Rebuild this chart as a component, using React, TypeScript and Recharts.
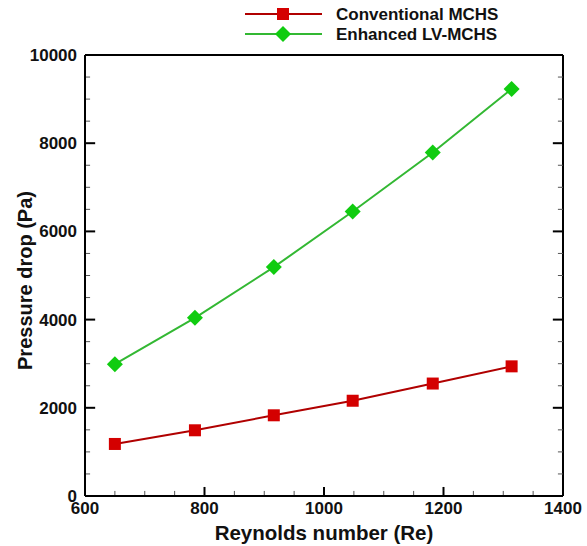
import React from 'react';
import { LineChart, Line, XAxis, YAxis, Legend, Label, ReferenceLine } from 'recharts';

// Reynolds numbers tested and measured pressure drop (Pa)
const reynolds = [650, 784, 916, 1048, 1182, 1314];
const conventional = [1180, 1490, 1830, 2160, 2550, 2940];
const enhanced = [2990, 4040, 5190, 6450, 7790, 9230];

const xTicks = [600, 650, 700, 750, 800, 850, 900, 950, 1000, 1050, 1100, 1150, 1200, 1250, 1300, 1350, 1400];
const xLabels = [600, 800, 1000, 1200, 1400];
const yTicks = [
  0, 500, 1000, 1500, 2000, 2500, 3000, 3500, 4000, 4500, 5000,
  5500, 6000, 6500, 7000, 7500, 8000, 8500, 9000, 9500, 10000,
];
const yLabels = [0, 2000, 4000, 6000, 8000, 10000];

const seriesNames = ['Conventional MCHS', 'Enhanced LV-MCHS'];

const data = reynolds.map((re, i) => ({
  re,
  conventional: conventional[i],
  enhanced: enhanced[i],
}));

const X_MIN = 600;
const X_MAX = 1400;
const Y_MIN = 0;
const Y_MAX = 10000;

// inward tick lengths, in axis units (roughly 9/5 px high, 10/5 px wide)
const X_TICK_MAJOR = 205;
const X_TICK_MINOR = 115;
const Y_TICK_MAJOR = 17;
const Y_TICK_MINOR = 8.5;

const FONT = '"Liberation Sans", Arial, Helvetica, sans-serif';
const INK = '#111';
const RED_LINE = '#b00000';
const RED_MARK = '#d40000';
const GREEN_LINE = '#33b833';
const GREEN_MARK = '#10cc10';

const tickText = { fontFamily: FONT, fontWeight: 'bold', fontSize: 17, fill: INK };
const frame = { stroke: '#000', strokeWidth: 2 };

const Square = ({ cx, cy, size = 12 }: { cx: number; cy: number; size?: number }) => (
  <rect x={cx - size / 2} y={cy - size / 2} width={size} height={size} fill={RED_MARK} />
);

const Diamond = ({ cx, cy, r = 8 }: { cx: number; cy: number; r?: number }) => (
  <polygon
    points={`${cx},${cy - r} ${cx + r},${cy} ${cx},${cy + r} ${cx - r},${cy}`}
    fill={GREEN_MARK}
  />
);

const LegendBox = () => (
  <svg width={320} height={44} style={{ display: 'block' }}>
    {seriesNames.map((name, i) => {
      const cy = 14 + i * 20;
      return (
        <g key={name}>
          <line x1={5} x2={82} y1={cy} y2={cy} stroke={i === 0 ? RED_LINE : GREEN_LINE} strokeWidth={2} />
          {i === 0 ? <Square cx={43} cy={cy} /> : <Diamond cx={43} cy={cy} />}
          <text x={96} y={cy} dy="0.36em" fontFamily={FONT} fontWeight="bold" fontSize={17} fill={INK}>
            {name}
          </text>
        </g>
      );
    })}
  </svg>
);

// small tick marks pointing into the plot frame
const tickMarks = () => {
  const marks: React.ReactNode[] = [];
  xTicks.forEach((v) => {
    if (v === X_MIN || v === X_MAX) return;
    const major = xLabels.includes(v);
    marks.push(
      <ReferenceLine
        key={`x${v}`}
        segment={[{ x: v, y: Y_MIN }, { x: v, y: Y_MIN + (major ? X_TICK_MAJOR : X_TICK_MINOR) }]}
        stroke={major ? '#000' : '#555'}
        strokeWidth={major ? 2 : 1}
        ifOverflow="visible"
      />,
    );
  });
  yTicks.forEach((v) => {
    if (v === Y_MIN || v === Y_MAX) return;
    const major = yLabels.includes(v);
    const len = major ? Y_TICK_MAJOR : Y_TICK_MINOR;
    const stroke = major ? '#000' : '#555';
    const width = major ? 2 : 1;
    marks.push(
      <ReferenceLine
        key={`l${v}`}
        segment={[{ x: X_MIN, y: v }, { x: X_MIN + len, y: v }]}
        stroke={stroke}
        strokeWidth={width}
        ifOverflow="visible"
      />,
      <ReferenceLine
        key={`r${v}`}
        segment={[{ x: X_MAX - len, y: v }, { x: X_MAX, y: v }]}
        stroke={stroke}
        strokeWidth={width}
        ifOverflow="visible"
      />,
    );
  });
  return marks;
};

export default function App() {
  return (
    <div style={{ position: 'absolute', left: 0, top: 0, background: '#fff' }}>
      <LineChart width={587} height={546} data={data} margin={{ top: 55, right: 24, bottom: 0, left: 0 }}>
        <XAxis
          dataKey="re"
          type="number"
          domain={[X_MIN, X_MAX]}
          ticks={xLabels}
          interval={0}
          height={50}
          tickSize={0}
          tickMargin={6}
          tickLine={false}
          tick={tickText}
          axisLine={frame}
        >
          <Label
            content={({ viewBox }: any) => (
              <text
                x={viewBox.x + viewBox.width / 2}
                y={viewBox.y + 37}
                dy="0.36em"
                textAnchor="middle"
                fontFamily={FONT}
                fontWeight="bold"
                fontSize={20.5}
                fill={INK}
              >
                Reynolds number (Re)
              </text>
            )}
          />
        </XAxis>
        <YAxis
          type="number"
          domain={[Y_MIN, Y_MAX]}
          ticks={yLabels}
          interval={0}
          width={85}
          tickSize={0}
          tickMargin={8}
          tickLine={false}
          tick={tickText}
          axisLine={frame}
        >
          <Label
            content={({ viewBox }: any) => {
              const cx = 25;
              const cy = viewBox.y + viewBox.height / 2 + 5;
              return (
                <text
                  x={cx}
                  y={cy}
                  dy="0.36em"
                  textAnchor="middle"
                  transform={`rotate(-90 ${cx} ${cy})`}
                  fontFamily={FONT}
                  fontWeight="bold"
                  fontSize={20}
                  fill={INK}
                >
                  Pressure drop (Pa)
                </text>
              );
            }}
          />
        </YAxis>

        {/* top and right sides of the frame */}
        <ReferenceLine y={Y_MAX} {...frame} ifOverflow="visible" />
        <ReferenceLine x={X_MAX} {...frame} ifOverflow="visible" />

        {tickMarks()}

        <Legend
          layout="horizontal"
          verticalAlign="middle"
          align="center"
          wrapperStyle={{ top: 0, left: 240, width: 320 }}
          content={() => <LegendBox />}
        />
        <Line
          name={seriesNames[0]}
          dataKey="conventional"
          stroke={RED_LINE}
          strokeWidth={2}
          isAnimationActive={false}
          dot={(p: any) => <Square key={p.index} cx={p.cx} cy={p.cy} />}
          activeDot={false}
        />
        <Line
          name={seriesNames[1]}
          dataKey="enhanced"
          stroke={GREEN_LINE}
          strokeWidth={2}
          isAnimationActive={false}
          dot={(p: any) => <Diamond key={p.index} cx={p.cx} cy={p.cy} />}
          activeDot={false}
        />
      </LineChart>
    </div>
  );
}
